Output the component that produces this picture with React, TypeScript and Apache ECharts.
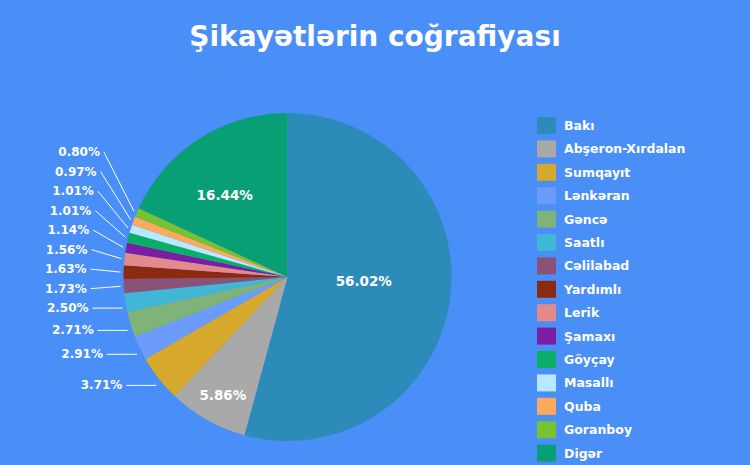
import React, { useEffect, useRef } from "react";
import * as echarts from "echarts";

const categories = [
  "Bakı",
  "Abşeron-Xırdalan",
  "Sumqayıt",
  "Lənkəran",
  "Gəncə",
  "Saatlı",
  "Cəlilabad",
  "Yardımlı",
  "Lerik",
  "Şamaxı",
  "Göyçay",
  "Masallı",
  "Quba",
  "Goranboy",
  "Digər",
];
// percentages printed on the chart
const percentLabels = [56.02, 5.86, 3.71, 2.91, 2.71, 2.5, 1.73, 1.63, 1.56, 1.14, 1.01, 1.01, 0.97, 0.8, 16.44];
// slice sizes as drawn in the picture (share of the full circle, %)
const sliceSizes = [54.2, 7.83, 4.61, 2.39, 2.5, 1.85, 1.38, 1.33, 1.22, 0.99, 0.99, 0.83, 0.82, 0.9, 18.1];
const colors = [
  "#2D8BBA",
  "#A9A9A9",
  "#D6A92C",
  "#6B9BFB",
  "#7FB37A",
  "#41B7D6",
  "#8B5277",
  "#8B2A0E",
  "#E48A8B",
  "#7A1FA1",
  "#0AAE66",
  "#B8E9FF",
  "#FFA95C",
  "#77C231",
  "#089F74",
];
const insideNames = ["Bakı", "Abşeron-Xırdalan", "Digər"];
// small nudges of the inside labels (pixels)
const insideNudge: Record<string, [number, number]> = {
  "Bakı": [-8, -7],
  "Abşeron-Xırdalan": [-23, 44],
  "Digər": [-17, -10],
};

const FONT = "DejaVu Sans";
const CX = 287.5;
const CY = 277;
const R = 164;

// layout of the outside labels: anchored on the rim at the slice middle,
// pushed upward (from the bottom one) so they keep a minimum gap
function computeOutsideLayout() {
  const total = sliceSizes.reduce((a, b) => a + b, 0);
  let cum = 0;
  const items: { idx: number; px: number; py: number; y: number }[] = [];
  sliceSizes.forEach((v, i) => {
    const mid = ((cum + v / 2) / total) * Math.PI * 2;
    cum += v;
    if (insideNames.includes(categories[i])) return;
    const px = CX + (R + 3) * Math.sin(mid);
    const py = CY - (R + 3) * Math.cos(mid);
    items.push({ idx: i, px, py, y: py });
  });
  items.sort((a, b) => b.py - a.py);
  const gap = 19.5;
  for (let k = 1; k < items.length; k++) {
    items[k].y = Math.min(items[k].py, items[k - 1].y - gap);
  }
  const map: Record<number, { px: number; py: number; y: number; pushed: boolean }> = {};
  items.forEach((it) => {
    map[it.idx] = { px: it.px, py: it.py, y: it.y + 5, pushed: it.py - it.y > 0.5 };
  });
  return map;
}

export default function App() {
  const ref = useRef<HTMLDivElement>(null);
  useEffect(() => {
    if (!ref.current) return;
    const chart = echarts.init(ref.current, undefined, { renderer: "svg" });
    const layout = computeOutsideLayout();
    const data = categories.map((name, i) => {
      const inside = insideNames.includes(name);
      return {
        name,
        value: sliceSizes[i],
        itemStyle: { color: colors[i] },
        label: inside ? { position: "inside", fontSize: 13.5 } : { position: "outside" },
        labelLine: { show: !inside },
      };
    });
    chart.setOption({
      animation: false,
      backgroundColor: "#4A8EF8",
      title: {
        text: "Şikayətlərin coğrafiyası",
        left: "center",
        top: 17,
        textStyle: { color: "#fff", fontFamily: FONT, fontWeight: "bold", fontSize: 28 },
      },
      legend: {
        orient: "vertical",
        left: 537,
        top: 117,
        padding: 0,
        itemWidth: 19,
        itemHeight: 17,
        itemGap: 6.4,
        icon: "rect",
        textStyle: {
          color: "#fff",
          fontFamily: FONT,
          fontWeight: "bold",
          fontSize: 12.5,
          padding: [0, 0, 0, 3],
        },
        data: categories,
      },
      series: [
        {
          type: "pie",
          center: [CX, CY],
          radius: R,
          startAngle: 90,
          clockwise: true,
          avoidLabelOverlap: false,
          data,
          label: {
            color: "#fff",
            fontFamily: FONT,
            fontWeight: "bold",
            fontSize: 12,
            formatter: (p: any) => percentLabels[p.dataIndex].toFixed(2) + "%",
          },
          labelLine: {
            length: 2,
            length2: 30,
            lineStyle: { color: "#fff", width: 1 },
          },
          labelLayout: (params: any) => {
            const name = categories[params.dataIndex];
            const n = insideNudge[name];
            if (n) return { dx: n[0], dy: n[1] };
            const l = layout[params.dataIndex];
            if (!l) return {};
            const xEnd = l.px - 34;
            const sx = xEnd + 4;
            const ey = l.pushed ? l.py : l.y;
            return {
              x: xEnd,
              y: l.y,
              align: "right",
              verticalAlign: "middle",
              labelLinePoints: [
                [l.px, ey],
                [(l.px + sx) / 2, (ey + l.y) / 2],
                [sx, l.y],
              ],
            };
          },
          emphasis: { disabled: true },
        },
      ],
    });
    return () => chart.dispose();
  }, []);
  return (
    <div
      ref={ref}
      style={{ position: "fixed", left: 0, top: 0, width: 750, height: 465 }}
    />
  );
}
